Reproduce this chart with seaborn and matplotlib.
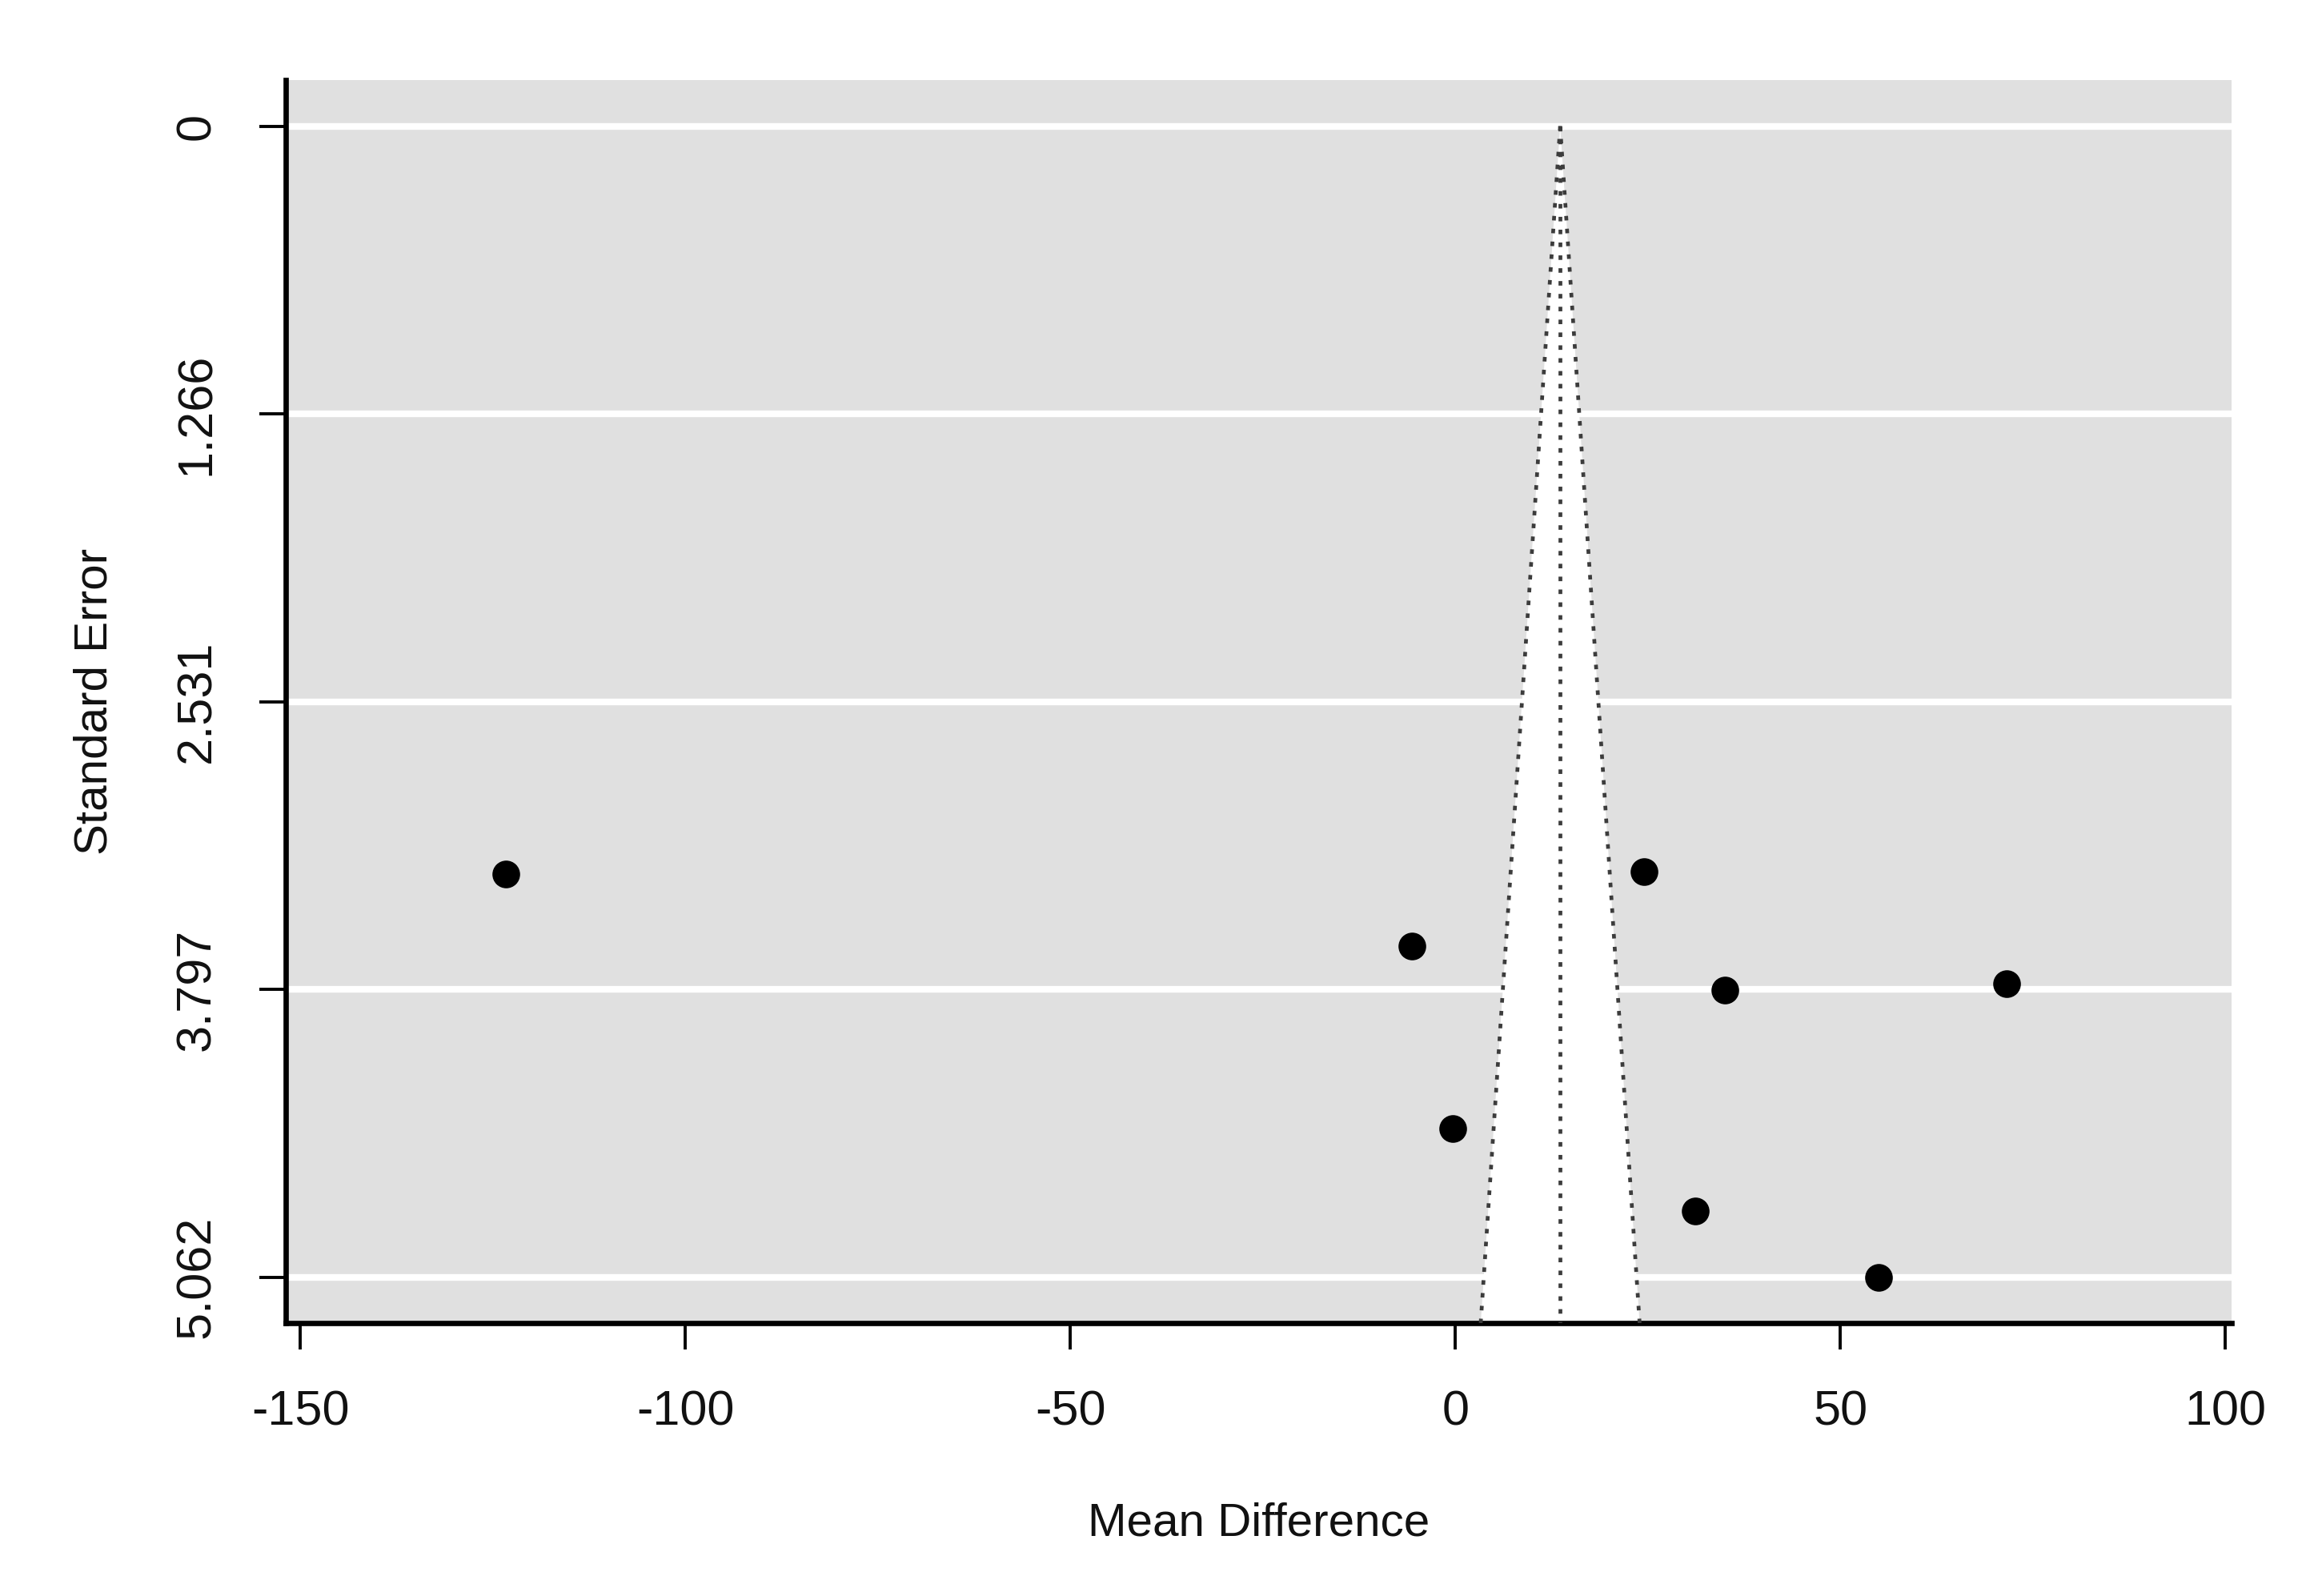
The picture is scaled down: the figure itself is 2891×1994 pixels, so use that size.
import numpy as np
import pandas as pd
import matplotlib
matplotlib.use("Agg")
import matplotlib.pyplot as plt
import seaborn as sns

# ---- data ----
mean_diff = [-123.3, 24.5, -5.7, 35.0, 71.6, -0.3, 31.1, 55.0]
std_err = [3.29, 3.28, 3.607, 3.80, 3.771, 4.408, 4.77, 5.062]
pooled_estimate = 13.6
z_crit = 1.96
x_ticks = [-150, -100, -50, 0, 50, 100]
x_tick_labels = ["-150", "-100", "-50", "0", "50", "100"]
y_ticks = [0.0, 1.2655, 2.531, 3.7965, 5.062]
y_tick_labels = ["0", "1.266", "2.531", "3.797", "5.062"]
x_limits = (-151.9, 100.8)
y_limits = (5.2645, -0.2025)

df = pd.DataFrame({"Mean Difference": mean_diff, "Standard Error": std_err})

sns.set_style("white")
plt.rcParams["font.family"] = ["Liberation Sans", "DejaVu Sans"]

fig = plt.figure(figsize=(2891 / 200, 1994 / 200), dpi=200)
ax = fig.add_axes([0.1235, 0.171, 0.9644 - 0.1235, 0.9498 - 0.171])

ax.set_facecolor("#e0e0e0")
ax.set_xlim(*x_limits)
ax.set_ylim(*y_limits)

# white horizontal reference lines at the y ticks
for yt in y_ticks:
    ax.axhline(yt, color="white", lw=3.0, zorder=1)

# funnel region
se_range = np.array([0.0, y_limits[0]])
left = pooled_estimate - z_crit * se_range
right = pooled_estimate + z_crit * se_range
ax.fill([left[0], left[1], right[1], right[0]],
        [se_range[0], se_range[1], se_range[1], se_range[0]],
        color="white", zorder=2, lw=0)
dot_style = dict(color="#3c3c3c", lw=1.7, linestyle=(0, (1.2, 2.2)), zorder=3)
ax.plot(left, se_range, **dot_style)
ax.plot(right, se_range, **dot_style)
ax.plot([pooled_estimate, pooled_estimate], se_range, **dot_style)

sns.scatterplot(data=df, x="Mean Difference", y="Standard Error", ax=ax,
                color="black", s=155, edgecolor="black", linewidth=0, zorder=4)

ax.set_xticks(x_ticks)
ax.set_xticklabels(x_tick_labels)
ax.set_yticks(y_ticks)
ax.set_yticklabels(y_tick_labels, rotation=90, va="center", ha="right")

for side in ["top", "right"]:
    ax.spines[side].set_visible(False)
for side in ["left", "bottom"]:
    ax.spines[side].set_color("black")
    ax.spines[side].set_linewidth(2.4)

ax.tick_params(axis="both", which="major", direction="out", length=12, width=1.4,
               color="black", labelsize=22, labelcolor="#111111",
               bottom=True, left=True)
ax.tick_params(axis="x", pad=18)
ax.tick_params(axis="y", pad=17.5)

ax.set_xlabel("Mean Difference", fontsize=21, color="#111111", labelpad=30)
ax.set_ylabel("Standard Error", fontsize=21, color="#111111", labelpad=26)

fig.savefig("out.png", dpi=200, facecolor="white")
